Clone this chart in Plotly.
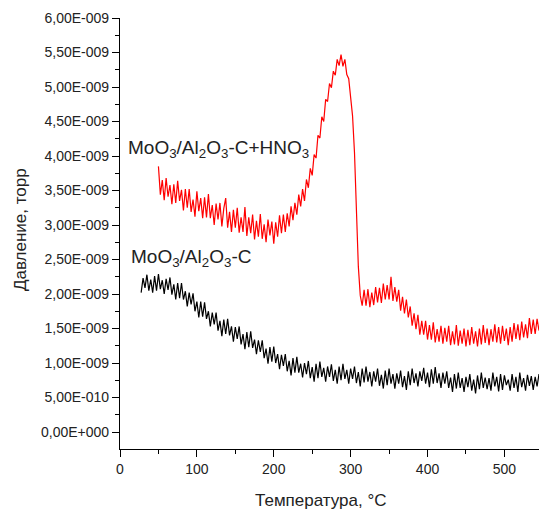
import plotly.graph_objects as go

# Temperature grids (start, step in °C) for each trace
RED_T0, RED_DT = 50.0, 2.5
BLK_T0, BLK_DT = 27.5, 2.5

# Pressure, in units of 1e-9 torr
p_red = [
    3.85, 3.44, 3.65, 3.36, 3.68, 3.41, 3.58, 3.30, 3.59, 3.32, 3.64, 3.35,
    3.51, 3.21, 3.52, 3.25, 3.52, 3.19, 3.37, 3.12, 3.49, 3.20, 3.39, 3.10,
    3.40, 3.11, 3.45, 3.10, 3.29, 3.00, 3.31, 3.08, 3.32, 2.98, 3.24, 3.39,
    2.96, 3.19, 2.90, 3.22, 2.96, 3.25, 2.89, 3.11, 2.90, 3.26, 2.84, 3.11,
    2.88, 3.15, 2.79, 3.06, 2.83, 3.16, 2.80, 3.01, 2.75, 3.08, 2.85, 3.05,
    2.73, 3.04, 2.83, 3.14, 2.88, 3.15, 2.90, 3.17, 2.98, 3.27, 3.07, 3.32,
    3.15, 3.44, 3.27, 3.52, 3.35, 3.66, 3.54, 3.82, 3.72, 4.02, 3.97, 4.30,
    4.26, 4.57, 4.50, 4.82, 4.79, 5.05, 4.99, 5.23, 5.17, 5.40, 5.31, 5.47,
    5.30, 5.40, 5.18, 5.12, 4.85, 4.58, 4.05, 3.30, 2.40, 1.98, 1.83, 2.06,
    1.83, 2.07, 1.81, 2.02, 1.84, 2.10, 1.88, 2.09, 1.87, 2.15, 1.92, 2.13,
    1.92, 2.25, 1.90, 2.10, 1.89, 2.06, 1.76, 1.96, 1.72, 1.92, 1.66, 1.82,
    1.54, 1.72, 1.49, 1.70, 1.41, 1.61, 1.41, 1.61, 1.34, 1.55, 1.34, 1.59,
    1.30, 1.49, 1.31, 1.54, 1.28, 1.51, 1.31, 1.54, 1.26, 1.46, 1.27, 1.55,
    1.25, 1.47, 1.28, 1.50, 1.24, 1.48, 1.26, 1.52, 1.28, 1.46, 1.24, 1.50,
    1.27, 1.55, 1.29, 1.50, 1.26, 1.49, 1.31, 1.56, 1.30, 1.52, 1.28, 1.54,
    1.32, 1.50, 1.26, 1.52, 1.31, 1.58, 1.35, 1.56, 1.33, 1.60, 1.37, 1.56,
    1.36, 1.65, 1.42, 1.63, 1.42, 1.64, 1.47,
]

p_black = [
    2.02, 2.23, 2.09, 2.28, 2.05, 2.21, 2.02, 2.26, 2.05, 2.29, 2.07, 2.20,
    2.00, 2.22, 2.06, 2.24, 1.99, 2.14, 1.92, 2.16, 1.94, 2.16, 1.92, 2.04,
    1.82, 2.02, 1.85, 2.01, 1.75, 1.89, 1.66, 1.89, 1.67, 1.88, 1.64, 1.75,
    1.53, 1.73, 1.56, 1.73, 1.47, 1.61, 1.39, 1.63, 1.42, 1.64, 1.40, 1.53,
    1.31, 1.52, 1.35, 1.53, 1.27, 1.42, 1.20, 1.45, 1.23, 1.46, 1.22, 1.34,
    1.13, 1.33, 1.16, 1.33, 1.07, 1.21, 0.99, 1.23, 1.02, 1.24, 1.00, 1.13,
    0.91, 1.12, 0.96, 1.13, 0.88, 1.03, 0.82, 1.07, 0.86, 1.09, 0.86, 0.99,
    0.79, 1.00, 0.84, 1.03, 0.78, 0.94, 0.73, 0.99, 0.78, 1.02, 0.80, 0.93,
    0.73, 0.95, 0.80, 0.98, 0.74, 0.90, 0.70, 0.95, 0.75, 0.99, 0.77, 0.90,
    0.70, 0.92, 0.77, 0.95, 0.71, 0.87, 0.66, 0.92, 0.72, 0.95, 0.73, 0.87,
    0.66, 0.88, 0.73, 0.92, 0.67, 0.83, 0.63, 0.89, 0.68, 0.92, 0.70, 0.84,
    0.63, 0.85, 0.70, 0.89, 0.65, 0.81, 0.61, 0.88, 0.68, 0.92, 0.71, 0.85,
    0.66, 0.88, 0.74, 0.93, 0.70, 0.86, 0.65, 0.91, 0.70, 0.94, 0.71, 0.85,
    0.64, 0.86, 0.70, 0.88, 0.64, 0.79, 0.58, 0.84, 0.63, 0.86, 0.64, 0.78,
    0.58, 0.80, 0.65, 0.84, 0.60, 0.76, 0.56, 0.82, 0.62, 0.86, 0.64, 0.79,
    0.62, 0.78, 0.60, 0.86, 0.66, 0.80, 0.59, 0.84, 0.61, 0.82, 0.68, 0.76,
    0.60, 0.84, 0.64, 0.80, 0.58, 0.86, 0.65, 0.78, 0.60, 0.83, 0.67, 0.81,
    0.61, 0.80, 0.66, 0.84,
]

y_tick_vals = [0.0, 0.5, 1.0, 1.5, 2.0, 2.5, 3.0, 3.5, 4.0, 4.5, 5.0, 5.5, 6.0]
y_tick_text = ["0,00E+000", "5,00E-010", "1,00E-009", "1,50E-009", "2,00E-009",
               "2,50E-009", "3,00E-009", "3,50E-009", "4,00E-009", "4,50E-009",
               "5,00E-009", "5,50E-009", "6,00E-009"]
y_minor_vals = [-0.25, 0.25, 0.75, 1.25, 1.75, 2.25, 2.75, 3.25, 3.75, 4.25, 4.75, 5.25, 5.75]
x_tick_vals = [0, 100, 200, 300, 400, 500]
x_minor_vals = [50, 150, 250, 350, 450]

label_red = "MoO<sub>3</sub>/Al<sub>2</sub>O<sub>3</sub>-C+HNO<sub>3</sub>"
label_black = "MoO<sub>3</sub>/Al<sub>2</sub>O<sub>3</sub>-C"
x_title = "Температура, °C"
y_title = "Давление, торр"

SCALE = 1e-9
t_red = [RED_T0 + RED_DT * i for i in range(len(p_red))]
t_black = [BLK_T0 + BLK_DT * i for i in range(len(p_black))]

FONT = "Liberation Sans, Arial, sans-serif"
TXT = "#222222"

fig = go.Figure()
fig.add_trace(go.Scatter(x=t_black, y=[v * SCALE for v in p_black], mode="lines",
                         line=dict(color="black", width=1.2), showlegend=False))
fig.add_trace(go.Scatter(x=t_red, y=[v * SCALE for v in p_red], mode="lines",
                         line=dict(color="#ff0000", width=1.2), showlegend=False))

fig.update_layout(
    width=539, height=512,
    margin=dict(l=120, r=0, t=18, b=63),
    paper_bgcolor="white", plot_bgcolor="white",
    font=dict(family=FONT, color=TXT, size=14),
    xaxis=dict(range=[0, 545], tickmode="array", tickvals=x_tick_vals,
               showline=True, linecolor="black", linewidth=1.2,
               ticks="outside", ticklen=7, tickcolor="black", tickwidth=1.2,
               minor=dict(ticks="outside", ticklen=4, tickcolor="black",
                          tickvals=x_minor_vals),
               showgrid=False, zeroline=False,
               tickfont=dict(size=14, color=TXT)),
    yaxis=dict(range=[-0.246 * SCALE, 6.0 * SCALE], tickmode="array",
               tickvals=[v * SCALE for v in y_tick_vals], ticktext=y_tick_text,
               showline=True, linecolor="black", linewidth=1.2,
               ticks="outside", ticklen=7, tickcolor="black", tickwidth=1.2,
               minor=dict(ticks="outside", ticklen=4, tickcolor="black",
                          tickvals=[v * SCALE for v in y_minor_vals]),
               showgrid=False, zeroline=False,
               tickfont=dict(size=14, color=TXT)),
)

fig.add_annotation(xref="paper", yref="paper", x=(320 - 120) / 419, y=(512 - 500 - 63) / 431,
                   text=x_title, showarrow=False, font=dict(size=17, color=TXT),
                   xanchor="center", yanchor="middle")
fig.add_annotation(xref="paper", yref="paper", x=(20 - 120) / 419, y=(449 - 230) / 431,
                   text=y_title, showarrow=False, font=dict(size=17, color=TXT),
                   textangle=-90, xanchor="center", yanchor="middle")
fig.add_annotation(xref="paper", yref="paper", x=(126 - 120) / 419, y=(449 - 149) / 431,
                   text=label_red, showarrow=False, font=dict(size=19, color=TXT),
                   xanchor="left", yanchor="middle")
fig.add_annotation(xref="paper", yref="paper", x=(129 - 120) / 419, y=(449 - 258) / 431,
                   text=label_black, showarrow=False, font=dict(size=19, color=TXT),
                   xanchor="left", yanchor="middle")

fig.write_html("out.html")
